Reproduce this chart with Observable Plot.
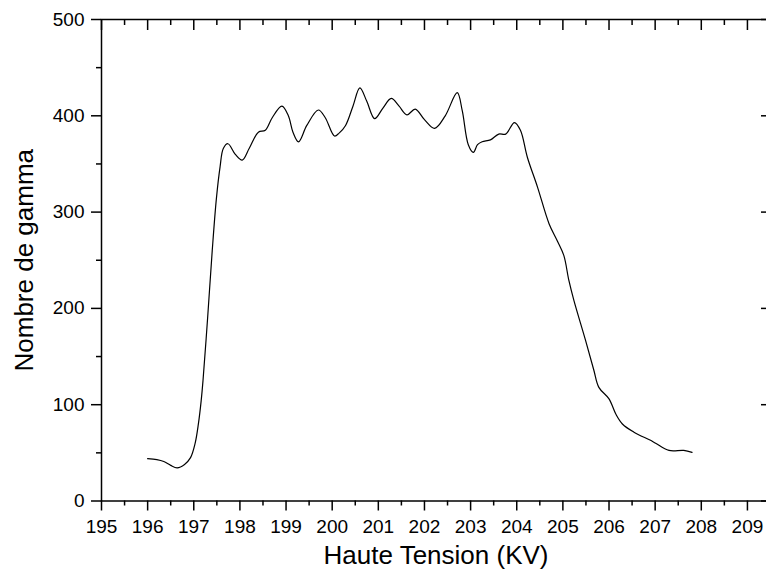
<!DOCTYPE html>
<html>
<head>
<meta charset="utf-8">
<script src="https://cdn.jsdelivr.net/npm/d3@7"></script>
<script src="https://cdn.jsdelivr.net/npm/@observablehq/plot@0.6"></script>
<style>
  html, body { margin: 0; padding: 0; background: #fff; }
</style>
</head>
<body>
<div id="chart"></div>
<script>
const tension = [
  196.00, 196.20, 196.35, 196.50, 196.64, 196.80, 196.93, 197.03, 197.10, 197.16,
  197.20, 197.30, 197.40, 197.49, 197.57, 197.64, 197.74, 197.90, 198.05, 198.20,
  198.40, 198.55, 198.70, 198.91, 199.05, 199.15, 199.27, 199.45, 199.70, 199.85,
  200.05, 200.15, 200.29, 200.45, 200.60, 200.75, 200.92, 201.10, 201.28, 201.45,
  201.62, 201.80, 202.00, 202.22, 202.45, 202.71, 202.82, 202.95, 203.06, 203.15,
  203.25, 203.43, 203.61, 203.76, 203.95, 204.08, 204.23, 204.45, 204.70, 204.88,
  205.02, 205.13, 205.24, 205.49, 205.67, 205.78, 206.00, 206.15, 206.29, 206.54,
  206.90, 207.01, 207.30, 207.62, 207.80
];
const gamma = [
  44, 43, 41, 37, 34.5, 38, 45, 60, 80, 104,
  125, 190, 260, 314, 347, 366, 371, 360, 354, 366,
  383, 385, 398, 410, 400, 383, 373, 390, 406, 398,
  379, 382, 390, 410, 429, 415, 397, 408, 418, 410,
  401, 407, 396, 387, 400, 424, 405, 370, 362, 370,
  373, 375, 381, 381, 393, 385, 357, 326, 288, 270,
  255, 229, 208, 167, 136, 118, 106, 90, 80, 71.5,
  63, 60, 52.5, 52.5, 50.5
];
const xMajor = [195,196,197,198,199,200,201,202,203,204,205,206,207,208,209];
const xMinor = [195.5,196.5,197.5,198.5,199.5,200.5,201.5,202.5,203.5,204.5,205.5,206.5,207.5,208.5,209.5];
const yMajor = [0,100,200,300,400,500];
const yMinor = [50,150,250,350,450];

const data = tension.map((t, i) => ({t, g: gamma[i]}));
const empty = () => "";

const chart = Plot.plot({
  width: 766,
  height: 578,
  marginLeft: 101,
  marginRight: -4,
  marginTop: 19,
  marginBottom: 77.5,
  style: {fontFamily: "'Liberation Sans', Arial, sans-serif", background: "#fff", color: "#000"},
  x: {domain: [195, 209.5]},
  y: {domain: [0, 500]},
  marks: [
    Plot.frame({stroke: "#000", strokeWidth: 1.5}),
    // bottom
    Plot.axisX(xMajor, {anchor: "bottom", tickSize: 10, tickPadding: 8, fontSize: 19, strokeWidth: 1.5, label: null, tickFormat: d => String(d)}),
    Plot.axisX(xMinor, {anchor: "bottom", tickSize: 5, strokeWidth: 1.5, label: null, tickFormat: empty}),
    // top (inward)
    Plot.axisX(xMajor, {anchor: "top", tickSize: 10, dy: 10, strokeWidth: 1.5, label: null, tickFormat: empty}),
    Plot.axisX(xMinor, {anchor: "top", tickSize: 5, dy: 5, strokeWidth: 1.5, label: null, tickFormat: empty}),
    // left
    Plot.axisY(yMajor, {anchor: "left", tickSize: 10, tickPadding: 7, fontSize: 19, strokeWidth: 1.5, label: null, tickFormat: d => String(d)}),
    Plot.axisY(yMinor, {anchor: "left", tickSize: 5, strokeWidth: 1.5, label: null, tickFormat: empty}),
    // right (inward)
    Plot.axisY(yMajor, {anchor: "right", tickSize: 10, dx: -10, strokeWidth: 1.5, label: null, tickFormat: empty}),
    Plot.axisY(yMinor, {anchor: "right", tickSize: 5, dx: -5, strokeWidth: 1.5, label: null, tickFormat: empty}),
    Plot.line(data, {x: "t", y: "g", curve: "catmull-rom", stroke: "#000", strokeWidth: 1.2}),
    Plot.text(["Haute Tension (KV)"], {frameAnchor: "bottom", dy: 62.5, fontSize: 26, fill: "#000", textAnchor: "middle"}),
    Plot.text(["Nombre de gamma"], {frameAnchor: "left", rotate: -90, dx: -77, fontSize: 26, fill: "#000", textAnchor: "middle"})
  ]
});
document.getElementById("chart").appendChild(chart);
</script>
</body>
</html>
